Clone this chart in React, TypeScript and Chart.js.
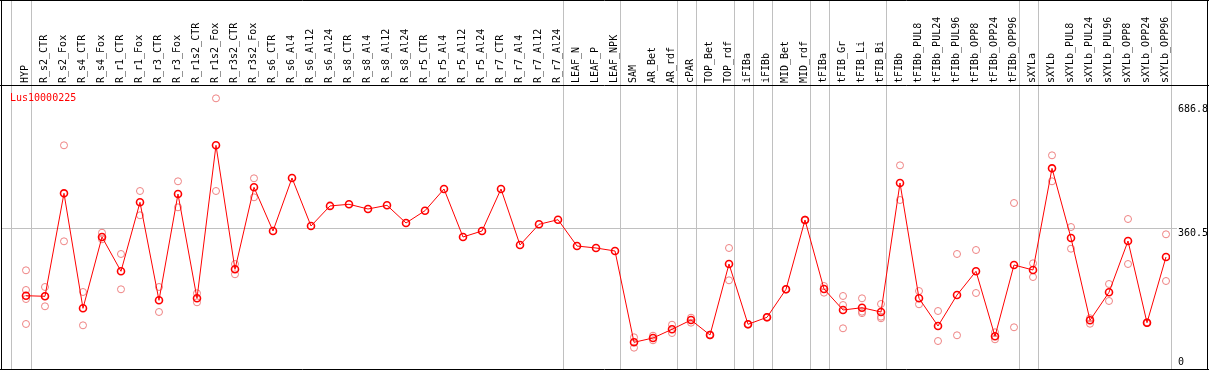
import React, { useEffect, useRef } from "react";
import { Chart, registerables } from "chart.js";

Chart.register(...registerables);

const categories = [
  "HYP", "R_s2_CTR", "R_s2_Fox", "R_s4_CTR", "R_s4_Fox", "R_r1_CTR", "R_r1_Fox", "R_r3_CTR", "R_r3_Fox",
  "R_r1s2_CTR", "R_r1s2_Fox", "R_r3s2_CTR", "R_r3s2_Fox", "R_s6_CTR", "R_s6_Al4", "R_s6_Al12", "R_s6_Al24",
  "R_s8_CTR", "R_s8_Al4", "R_s8_Al12", "R_s8_Al24", "R_r5_CTR", "R_r5_Al4", "R_r5_Al12", "R_r5_Al24",
  "R_r7_CTR", "R_r7_Al4", "R_r7_Al12", "R_r7_Al24", "LEAF_N", "LEAF_P", "LEAF_NPK", "SAM", "AR_Bet", "AR_rdf",
  "cPAR", "TOP_Bet", "TOP_rdf", "iFIBa", "iFIBb", "MID_Bet", "MID_rdf", "tFIBa", "tFIB_Gr", "tFIB_Li", "tFIB_Bi",
  "tFIBb", "tFIBb_PUL8", "tFIBb_PUL24", "tFIBb_PUL96", "tFIBb_OPP8", "tFIBb_OPP24", "tFIBb_OPP96", "sXYLa",
  "sXYLb", "sXYLb_PUL8", "sXYLb_PUL24", "sXYLb_PUL96", "sXYLb_OPP8", "sXYLb_OPP24", "sXYLb_OPP96",
];

const means = [
  183.4, 181.9, 453.3, 150.2, 338.2, 247.8, 429.6, 171.3, 451.5,
  176.6, 579.9, 253.0, 469.2, 354.0, 493.7, 367.2, 420.1,
  424.4, 412.0, 421.7, 375.1, 407.5, 464.7, 338.2, 354.0,
  464.7, 317.1, 371.6, 383.8, 314.4, 309.2, 301.3, 60.6, 72.0, 94.9,
  119.4, 79.9, 267.0, 108.1, 126.5, 200.3, 383.0, 201.1, 145.8, 151.8, 140.5,
  480.5, 176.6, 103.6, 185.3, 247.8, 76.4, 264.4, 251.2,
  519.2, 335.5, 118.6, 192.4, 327.6, 112.3, 285.5,
];

const replicates: number[][] = [
  [250.4, 198.5, 174.7, 108.9], [206.4, 182.0, 155.5], [579.9, 326.8], [193.2, 105.4], [349.5, 332.1],
  [293.4, 200.3], [459.4, 395.4], [206.4, 140.5], [485.0, 416.4],
  [189.8, 166.0], [703.7, 459.4], [267.0, 239.9], [492.9, 442.8], [], [], [], [],
  [], [], [], [], [], [], [], [],
  [], [], [], [], [], [], [], [73.8, 46.4], [78.0, 65.9], [107.0, 85.1],
  [125.5, 112.3], [81.0, 79.0], [309.2, 224.0], [109.0, 107.0], [127.5, 125.5], [201.0, 199.5], [384.0, 382.0],
  [209.0, 191.4], [182.7, 158.9, 97.5], [176.6, 141.3, 137.5], [161.6, 128.1, 123.9],
  [527.1, 435.7], [195.8, 160.8], [143.1, 64.0], [293.4, 79.1], [303.9, 190.6], [87.0, 68.5], [427.8, 100.2], [268.8, 232.7],
  [553.5, 485.0], [364.5, 307.3], [123.9, 109.6], [214.3, 169.5], [385.6, 267.0], [113.5, 111.0], [345.3, 222.2],
];

const yTickValues = [0, 360.5, 686.8];
const yTickLabels = ["0", "360.5", "686.8"];
const separators = [-0.8, 0.25, 28.25, 31.25, 34.25, 35.25, 37.25, 38.25, 39.25, 41.25, 42.25, 45.25, 52.25, 53.25, 60.25];
const title = "Lus10000225";

const FONT = "DejaVu Sans Mono";

export default function App() {
  const ref = useRef<HTMLCanvasElement | null>(null);

  useEffect(() => {
    document.body.style.margin = "0";
    const canvas = ref.current;
    if (!canvas) return;

    const meanData = means.map((m, i) => ({ x: i, y: m }));
    const repData: { x: number; y: number }[] = [];
    replicates.forEach((arr, i) => arr.forEach((v) => repData.push({ x: i, y: v })));

    const framePlugin = {
      id: "frame",
      beforeDatasetsDraw(chart: any) {
        const { ctx, chartArea, scales } = chart;
        ctx.save();
        ctx.strokeStyle = "#c0c0c0";
        ctx.lineWidth = 1;
        separators.forEach((s) => {
          const x = Math.round(scales.x.getPixelForValue(s)) + 0.5;
          ctx.beginPath();
          ctx.moveTo(x, 0);
          ctx.lineTo(x, chartArea.bottom);
          ctx.stroke();
        });
        ctx.fillStyle = "#ff0000";
        ctx.font = `10px "${FONT}"`;
        ctx.textBaseline = "top";
        ctx.textAlign = "left";
        ctx.fillText(title, 10, chartArea.top + 7);
        ctx.restore();
      },
      afterDraw(chart: any) {
        const { ctx, chartArea } = chart;
        ctx.save();
        ctx.strokeStyle = "#000000";
        ctx.lineWidth = 1;
        ctx.beginPath();
        ctx.moveTo(1.5, 0);
        ctx.lineTo(1.5, 370);
        ctx.moveTo(1207.5, 0);
        ctx.lineTo(1207.5, 370);
        ctx.moveTo(0, 0.5);
        ctx.lineTo(1209, 0.5);
        ctx.moveTo(0, 369.5);
        ctx.lineTo(1209, 369.5);
        const hy = Math.round(chartArea.top) - 0.5;
        ctx.moveTo(0, hy);
        ctx.lineTo(1209, hy);
        ctx.stroke();
        ctx.restore();
      },
    };

    const chart = new Chart(canvas, {
      type: "line",
      data: {
        datasets: [
          {
            type: "line",
            data: meanData,
            borderColor: "#ff0000",
            borderWidth: 1,
            pointRadius: 3.5,
            pointBorderWidth: 1.6,
            pointBorderColor: "#ff0000",
            pointBackgroundColor: "rgba(255,255,255,0)",
            order: 0,
          } as any,
          {
            type: "scatter",
            data: repData,
            showLine: false,
            pointRadius: 3.5,
            pointBorderWidth: 1,
            pointBorderColor: "rgb(238,130,130)",
            pointBackgroundColor: "rgba(255,255,255,0)",
            order: 1,
          } as any,
        ],
      },
      options: {
        animation: false,
        responsive: false,
        maintainAspectRatio: false,
        layout: { autoPadding: false, padding: { left: 2, right: 1, top: 0, bottom: 1 } },
        plugins: { legend: { display: false }, tooltip: { enabled: false }, title: { display: false } },
        scales: {
          x: {
            type: "linear",
            position: "top",
            min: -1.263,
            max: 60.21,
            afterBuildTicks: (scale: any) => {
              scale.ticks = categories.map((_, i) => ({ value: i }));
            },
            afterFit: (scale: any) => {
              scale.height = 86;
              scale.paddingLeft = 0;
              scale.paddingRight = 0;
            },
            grid: { display: false, drawTicks: false },
            border: { display: false },
            ticks: {
              autoSkip: false,
              minRotation: 90,
              maxRotation: 90,
              padding: 3,
              labelOffset: 11.5,
              color: "#000000",
              font: { family: FONT, size: 10 },
              callback: (v: any) => categories[Math.round(Number(v))] ?? "",
            },
          },
          y: {
            type: "linear",
            position: "right",
            min: -9.75,
            max: 736.2,
            afterBuildTicks: (scale: any) => {
              scale.ticks = yTickValues.map((v) => ({ value: v }));
            },
            afterFit: (scale: any) => {
              scale.width = 38;
              scale.paddingTop = 0;
              scale.paddingBottom = 0;
            },
            grid: {
              color: (c: any) => (c.tick && c.tick.value === 360.5 ? "#c0c0c0" : "rgba(0,0,0,0)"),
              tickLength: 7,
              drawTicks: true,
            },
            border: { display: false },
            ticks: {
              padding: 1,
              color: "#000000",
              font: { family: FONT, size: 10, lineHeight: 1.4 },
              labelOffset: 4.5,
              callback: (v: any, i: number) => (i === 0 ? [yTickLabels[0], ""] : yTickLabels[i] ?? String(v)),
            },
          },
        },
      } as any,
      plugins: [framePlugin],
    });

    return () => chart.destroy();
  }, []);

  return (
    <div style={{ width: 1209, height: 370, background: "#ffffff" }}>
      <canvas ref={ref} width={1209} height={370} style={{ display: "block" }} />
    </div>
  );
}
